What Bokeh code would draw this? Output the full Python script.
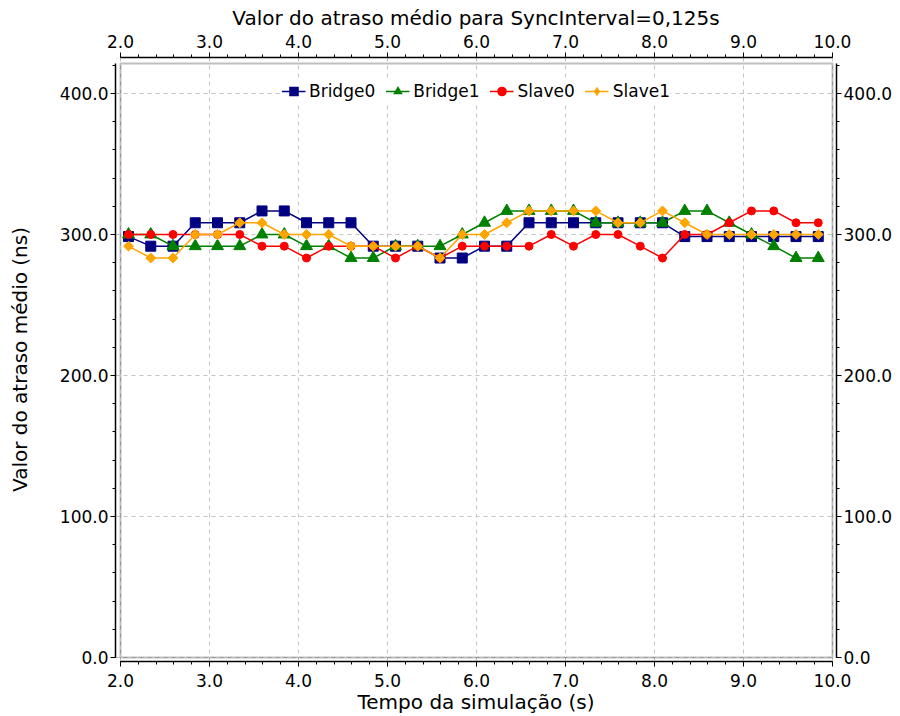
from bokeh.plotting import figure
from bokeh.models import (LinearAxis, SingleIntervalTicker, PrintfTickFormatter,
                          BoxAnnotation, Legend, LegendItem, Range1d)
from bokeh.embed import file_html
from bokeh.resources import INLINE

FONT = "DejaVu Sans"

# ---- data ----
tempo = [2.09, 2.34, 2.59, 2.84, 3.09, 3.34, 3.59, 3.84, 4.09, 4.34, 4.59, 4.84,
         5.09, 5.34, 5.59, 5.84, 6.09, 6.34, 6.59, 6.84, 7.09, 7.34, 7.59, 7.84,
         8.09, 8.34, 8.59, 8.84, 9.09, 9.34, 9.59, 9.84]

bridge0 = [298.5, 291.7, 291.7, 308.3, 308.3, 308.3, 316.7, 316.7, 308.3, 308.3, 308.3, 291.7,
           291.7, 291.7, 283.3, 283.3, 291.7, 291.7, 308.3, 308.3, 308.3, 308.3, 308.3, 308.3,
           308.3, 298.5, 298.5, 298.5, 298.5, 298.5, 298.5, 298.5]
bridge1 = [300.0, 300.0, 291.7, 291.7, 291.7, 291.7, 300.0, 300.0, 291.7, 291.7, 283.3, 283.3,
           291.7, 291.7, 291.7, 300.0, 308.3, 316.7, 316.7, 316.7, 316.7, 308.3, 308.3, 308.3,
           308.3, 316.7, 316.7, 308.3, 300.0, 291.7, 283.3, 283.3]
slave0 = [300.0, 300.0, 300.0, 300.0, 300.0, 300.0, 291.7, 291.7, 283.3, 291.7, 291.7, 291.7,
          283.3, 291.7, 283.3, 291.7, 291.7, 291.7, 291.7, 300.0, 291.7, 300.0, 300.0, 291.7,
          283.3, 300.0, 300.0, 308.3, 316.7, 316.7, 308.3, 308.3]
slave1 = [291.7, 283.3, 283.3, 300.0, 300.0, 308.3, 308.3, 300.0, 300.0, 300.0, 291.7, 291.7,
          291.7, 291.7, 283.3, 300.0, 300.0, 308.3, 316.7, 316.7, 316.7, 316.7, 308.3, 308.3,
          316.7, 308.3, 300.0, 300.0, 300.0, 300.0, 300.0, 300.0]

series_names = ["Bridge0", "Bridge1", "Slave0", "Slave1"]
series_values = [bridge0, bridge1, slave0, slave1]
series_colors = ["#000080", "#008000", "#FF0000", "#FFA500"]
series_markers = ["square", "triangle", "circle", "square"]
series_sizes = [10, 12, 8, 7]
series_angles = [0.0, 0.0, 0.0, 0.785398]
legend_markers = ["square", "triangle", "circle", "diamond"]

subtitle = "Valor do atraso médio para SyncInterval=0,125s"
x_label = "Tempo da simulação (s)"
y_label = "Valor do atraso médio (ns)"

x_min, x_max = 2.0, 10.0
y_min, y_max = 0.0, 421.2

p = figure(width=900, height=716, output_backend="svg", toolbar_location=None,
           x_range=Range1d(1.9438, 10.0449), y_range=Range1d(-2.83, 425.5),
           min_border_left=115, min_border_right=64, min_border_top=57,
           min_border_bottom=54, title=subtitle)
p.outline_line_color = None
p.background_fill_color = "white"
p.border_fill_color = "white"

p.title.align = "center"
p.title.text_font = FONT
p.title.text_font_size = "20px"
p.title.text_font_style = "normal"
p.title.text_color = "#000000"
p.title.standoff = 4

p.add_layout(LinearAxis(), "above")
p.add_layout(LinearAxis(), "right")

for ax in p.xaxis:
    ax.ticker = SingleIntervalTicker(interval=1.0, num_minor_ticks=5)
    ax.bounds = (x_min, x_max)
for ax in p.yaxis:
    ax.ticker = SingleIntervalTicker(interval=100.0, num_minor_ticks=5)
    ax.bounds = (y_min, y_max)

for ax in list(p.xaxis) + list(p.yaxis):
    ax.formatter = PrintfTickFormatter(format="%.1f")
    ax.major_label_text_font = FONT
    ax.major_label_text_font_size = "17px"
    ax.major_label_text_color = "#000000"
    ax.axis_line_color = "#000000"
    ax.axis_line_width = 1.5
    ax.major_tick_line_color = "#000000"
    ax.minor_tick_line_color = "#000000"
    ax.major_tick_in = 0
    ax.major_tick_out = 5
    ax.minor_tick_in = 0
    ax.minor_tick_out = 3
    ax.major_label_standoff = 2
    ax.axis_label_standoff = 0
    ax.axis_label_text_font = FONT
    ax.axis_label_text_font_size = "20px"
    ax.axis_label_text_font_style = "normal"
    ax.axis_label_text_color = "#000000"

p.above[0].major_label_standoff = 5
p.below[0].major_label_standoff = 7
p.below[0].axis_label = x_label
p.left[0].axis_label = y_label
p.left[0].axis_label_standoff = 25

p.xgrid.grid_line_color = "#c4c4c4"
p.xgrid.grid_line_dash = "4 4"
p.ygrid.grid_line_color = "#c4c4c4"
p.ygrid.grid_line_dash = "4 4"

frame_box = BoxAnnotation(left=x_min, right=x_max, bottom=y_min, top=y_max,
                          fill_color=None, line_color="#2a2a2a", line_width=2)
p.add_layout(frame_box)

items = []
for name, vals, col, mk, sz, ang, lmk in zip(series_names, series_values, series_colors,
                                             series_markers, series_sizes, series_angles,
                                             legend_markers):
    ln = p.line(tempo, vals, line_color=col, line_width=1.5)
    p.scatter(tempo, vals, marker=mk, size=sz, angle=ang,
              fill_color=col, line_color=col)
    # zero-size marker: invisible on the plot, drawn only as the legend swatch
    lg = p.scatter(tempo, vals, marker=lmk, size=0, fill_color=col, line_color=None)
    items.append(LegendItem(label=name, renderers=[ln, lg]))

legend = Legend(items=items, orientation="horizontal", location="top_center",
                margin=21, padding=2, spacing=10, label_standoff=4,
                glyph_width=24, glyph_height=26,
                label_text_font=FONT, label_text_font_size="17px",
                label_text_color="#000000",
                background_fill_color="white", background_fill_alpha=1.0,
                border_line_color=None)
p.add_layout(legend, "center")

open("out.html", "w").write(file_html(p, INLINE))
